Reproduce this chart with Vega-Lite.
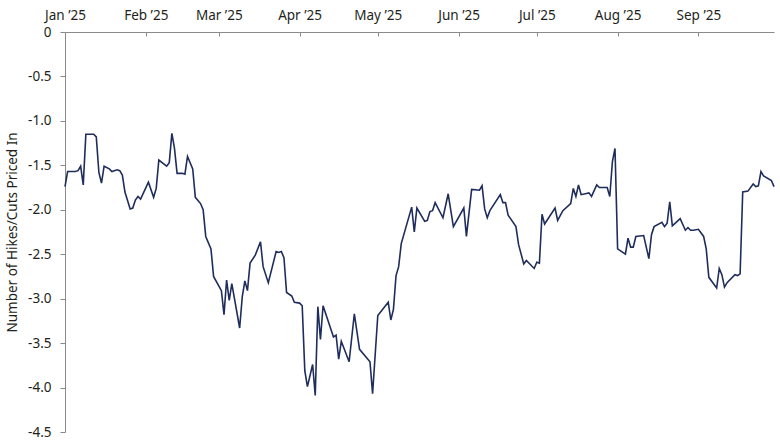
{
  "$schema": "https://vega.github.io/schema/vega-lite/v6.json",
  "autosize": {"type": "none"},
  "padding": {"left": 65, "top": 32, "right": 6, "bottom": 8},
  "width": 709,
  "height": 400,
  "background": "white",
  "config": {
    "view": {"stroke": null},
    "font": "Noto Sans",
    "axis": {"labelFont": "Noto Sans", "titleFont": "Noto Sans", "labelColor": "#231f20", "titleColor": "#231f20", "grid": false, "domainColor": "#8a8a8a", "tickColor": "#8a8a8a", "labelFontSize": 13.5, "titleFontSize": 13.5, "titleFontWeight": "normal"}
  },
  "data": {"values": [
    {"date": "2025-01-01", "v": -1.74},
    {"date": "2025-01-02", "v": -1.57},
    {"date": "2025-01-05", "v": -1.57},
    {"date": "2025-01-06", "v": -1.56},
    {"date": "2025-01-07", "v": -1.51},
    {"date": "2025-01-08", "v": -1.72},
    {"date": "2025-01-09", "v": -1.15},
    {"date": "2025-01-11", "v": -1.15},
    {"date": "2025-01-12", "v": -1.15},
    {"date": "2025-01-13", "v": -1.18},
    {"date": "2025-01-14", "v": -1.58},
    {"date": "2025-01-15", "v": -1.70},
    {"date": "2025-01-16", "v": -1.51},
    {"date": "2025-01-18", "v": -1.54},
    {"date": "2025-01-19", "v": -1.57},
    {"date": "2025-01-21", "v": -1.55},
    {"date": "2025-01-22", "v": -1.56},
    {"date": "2025-01-23", "v": -1.61},
    {"date": "2025-01-24", "v": -1.80},
    {"date": "2025-01-26", "v": -1.99},
    {"date": "2025-01-27", "v": -1.98},
    {"date": "2025-01-28", "v": -1.89},
    {"date": "2025-01-29", "v": -1.85},
    {"date": "2025-01-30", "v": -1.88},
    {"date": "2025-02-02", "v": -1.69},
    {"date": "2025-02-04", "v": -1.86},
    {"date": "2025-02-05", "v": -1.76},
    {"date": "2025-02-06", "v": -1.44},
    {"date": "2025-02-09", "v": -1.51},
    {"date": "2025-02-10", "v": -1.47},
    {"date": "2025-02-11", "v": -1.14},
    {"date": "2025-02-12", "v": -1.31},
    {"date": "2025-02-13", "v": -1.59},
    {"date": "2025-02-15", "v": -1.59},
    {"date": "2025-02-16", "v": -1.60},
    {"date": "2025-02-17", "v": -1.40},
    {"date": "2025-02-19", "v": -1.54},
    {"date": "2025-02-20", "v": -1.86},
    {"date": "2025-02-22", "v": -1.93},
    {"date": "2025-02-23", "v": -2.00},
    {"date": "2025-02-24", "v": -2.30},
    {"date": "2025-02-26", "v": -2.44},
    {"date": "2025-02-27", "v": -2.75},
    {"date": "2025-03-02", "v": -2.91},
    {"date": "2025-03-03", "v": -3.18},
    {"date": "2025-03-04", "v": -2.79},
    {"date": "2025-03-05", "v": -3.02},
    {"date": "2025-03-06", "v": -2.83},
    {"date": "2025-03-09", "v": -3.33},
    {"date": "2025-03-10", "v": -2.98},
    {"date": "2025-03-11", "v": -2.80},
    {"date": "2025-03-12", "v": -2.91},
    {"date": "2025-03-13", "v": -2.60},
    {"date": "2025-03-15", "v": -2.51},
    {"date": "2025-03-17", "v": -2.36},
    {"date": "2025-03-18", "v": -2.64},
    {"date": "2025-03-20", "v": -2.82},
    {"date": "2025-03-23", "v": -2.47},
    {"date": "2025-03-24", "v": -2.48},
    {"date": "2025-03-25", "v": -2.47},
    {"date": "2025-03-26", "v": -2.54},
    {"date": "2025-03-27", "v": -2.93},
    {"date": "2025-03-29", "v": -2.97},
    {"date": "2025-03-30", "v": -3.04},
    {"date": "2025-04-01", "v": -3.05},
    {"date": "2025-04-02", "v": -3.08},
    {"date": "2025-04-03", "v": -3.81},
    {"date": "2025-04-04", "v": -3.99},
    {"date": "2025-04-06", "v": -3.74},
    {"date": "2025-04-07", "v": -4.09},
    {"date": "2025-04-08", "v": -3.09},
    {"date": "2025-04-09", "v": -3.46},
    {"date": "2025-04-10", "v": -3.08},
    {"date": "2025-04-14", "v": -3.43},
    {"date": "2025-04-15", "v": -3.41},
    {"date": "2025-04-16", "v": -3.68},
    {"date": "2025-04-17", "v": -3.48},
    {"date": "2025-04-20", "v": -3.71},
    {"date": "2025-04-22", "v": -3.17},
    {"date": "2025-04-24", "v": -3.57},
    {"date": "2025-04-28", "v": -3.71},
    {"date": "2025-04-29", "v": -4.07},
    {"date": "2025-05-01", "v": -3.19},
    {"date": "2025-05-05", "v": -3.04},
    {"date": "2025-05-06", "v": -3.24},
    {"date": "2025-05-07", "v": -3.12},
    {"date": "2025-05-08", "v": -2.74},
    {"date": "2025-05-09", "v": -2.64},
    {"date": "2025-05-10", "v": -2.38},
    {"date": "2025-05-14", "v": -1.97},
    {"date": "2025-05-15", "v": -2.25},
    {"date": "2025-05-16", "v": -1.98},
    {"date": "2025-05-19", "v": -2.13},
    {"date": "2025-05-20", "v": -2.12},
    {"date": "2025-05-21", "v": -2.02},
    {"date": "2025-05-22", "v": -2.01},
    {"date": "2025-05-23", "v": -1.92},
    {"date": "2025-05-26", "v": -2.09},
    {"date": "2025-05-28", "v": -1.82},
    {"date": "2025-05-30", "v": -2.19},
    {"date": "2025-06-03", "v": -1.98},
    {"date": "2025-06-04", "v": -2.30},
    {"date": "2025-06-06", "v": -1.77},
    {"date": "2025-06-09", "v": -1.78},
    {"date": "2025-06-10", "v": -1.73},
    {"date": "2025-06-11", "v": -1.99},
    {"date": "2025-06-12", "v": -2.09},
    {"date": "2025-06-13", "v": -2.01},
    {"date": "2025-06-17", "v": -1.83},
    {"date": "2025-06-18", "v": -1.92},
    {"date": "2025-06-19", "v": -1.92},
    {"date": "2025-06-20", "v": -2.06},
    {"date": "2025-06-23", "v": -2.19},
    {"date": "2025-06-24", "v": -2.39},
    {"date": "2025-06-26", "v": -2.61},
    {"date": "2025-06-27", "v": -2.57},
    {"date": "2025-06-30", "v": -2.66},
    {"date": "2025-07-01", "v": -2.59},
    {"date": "2025-07-02", "v": -2.60},
    {"date": "2025-07-03", "v": -2.05},
    {"date": "2025-07-04", "v": -2.16},
    {"date": "2025-07-08", "v": -1.98},
    {"date": "2025-07-09", "v": -2.12},
    {"date": "2025-07-11", "v": -2.01},
    {"date": "2025-07-14", "v": -1.93},
    {"date": "2025-07-15", "v": -1.76},
    {"date": "2025-07-16", "v": -1.85},
    {"date": "2025-07-17", "v": -1.72},
    {"date": "2025-07-18", "v": -1.83},
    {"date": "2025-07-21", "v": -1.81},
    {"date": "2025-07-22", "v": -1.85},
    {"date": "2025-07-24", "v": -1.72},
    {"date": "2025-07-25", "v": -1.75},
    {"date": "2025-07-28", "v": -1.75},
    {"date": "2025-07-29", "v": -1.85},
    {"date": "2025-07-30", "v": -1.46},
    {"date": "2025-07-31", "v": -1.31},
    {"date": "2025-08-01", "v": -2.44},
    {"date": "2025-08-04", "v": -2.50},
    {"date": "2025-08-05", "v": -2.32},
    {"date": "2025-08-06", "v": -2.42},
    {"date": "2025-08-07", "v": -2.42},
    {"date": "2025-08-08", "v": -2.30},
    {"date": "2025-08-11", "v": -2.29},
    {"date": "2025-08-13", "v": -2.55},
    {"date": "2025-08-14", "v": -2.28},
    {"date": "2025-08-15", "v": -2.19},
    {"date": "2025-08-18", "v": -2.14},
    {"date": "2025-08-19", "v": -2.19},
    {"date": "2025-08-20", "v": -2.15},
    {"date": "2025-08-21", "v": -1.91},
    {"date": "2025-08-22", "v": -2.18},
    {"date": "2025-08-25", "v": -2.10},
    {"date": "2025-08-27", "v": -2.23},
    {"date": "2025-08-28", "v": -2.20},
    {"date": "2025-08-29", "v": -2.23},
    {"date": "2025-08-30", "v": -2.23},
    {"date": "2025-09-01", "v": -2.22},
    {"date": "2025-09-03", "v": -2.30},
    {"date": "2025-09-04", "v": -2.44},
    {"date": "2025-09-05", "v": -2.76},
    {"date": "2025-09-08", "v": -2.88},
    {"date": "2025-09-09", "v": -2.66},
    {"date": "2025-09-10", "v": -2.73},
    {"date": "2025-09-11", "v": -2.87},
    {"date": "2025-09-12", "v": -2.82},
    {"date": "2025-09-15", "v": -2.73},
    {"date": "2025-09-16", "v": -2.74},
    {"date": "2025-09-17", "v": -2.72},
    {"date": "2025-09-18", "v": -1.80},
    {"date": "2025-09-20", "v": -1.79},
    {"date": "2025-09-22", "v": -1.71},
    {"date": "2025-09-23", "v": -1.74},
    {"date": "2025-09-24", "v": -1.73},
    {"date": "2025-09-25", "v": -1.57},
    {"date": "2025-09-26", "v": -1.62},
    {"date": "2025-09-29", "v": -1.67},
    {"date": "2025-09-30", "v": -1.74}
  ]},
  "mark": {"type": "line", "color": "#1f2d5c", "strokeWidth": 1.6, "interpolate": "linear"},
  "encoding": {
    "x": {
      "field": "date", "type": "temporal", "title": null,
      "scale": {"type": "utc", "domain": [{"year": 2025, "month": 1, "date": 1, "utc": true}, {"year": 2025, "month": 9, "date": 30, "utc": true}]},
      "axis": {"orient": "top", "labelExpr": "utcFormat(datum.value, '%b \u2019%y')", "tickCount": {"interval": "month", "step": 1}, "tickSize": -4, "labelPadding": 14, "labelAlign": "center", "labelOverlap": false, "labelFlush": false}
    },
    "y": {
      "field": "v", "type": "quantitative",
      "title": "Number of Hikes/Cuts Priced In",
      "scale": {"domain": [-4.5, 0], "nice": false, "zero": false},
      "axis": {"values": [0, -0.5, -1, -1.5, -2, -2.5, -3, -3.5, -4, -4.5], "labelExpr": "datum.value == 0 ? '0' : replace(format(datum.value, '.1f'), '\u2212', '-')", "tickSize": 5, "labelPadding": 9, "titlePadding": 8}
    }
  }
}
